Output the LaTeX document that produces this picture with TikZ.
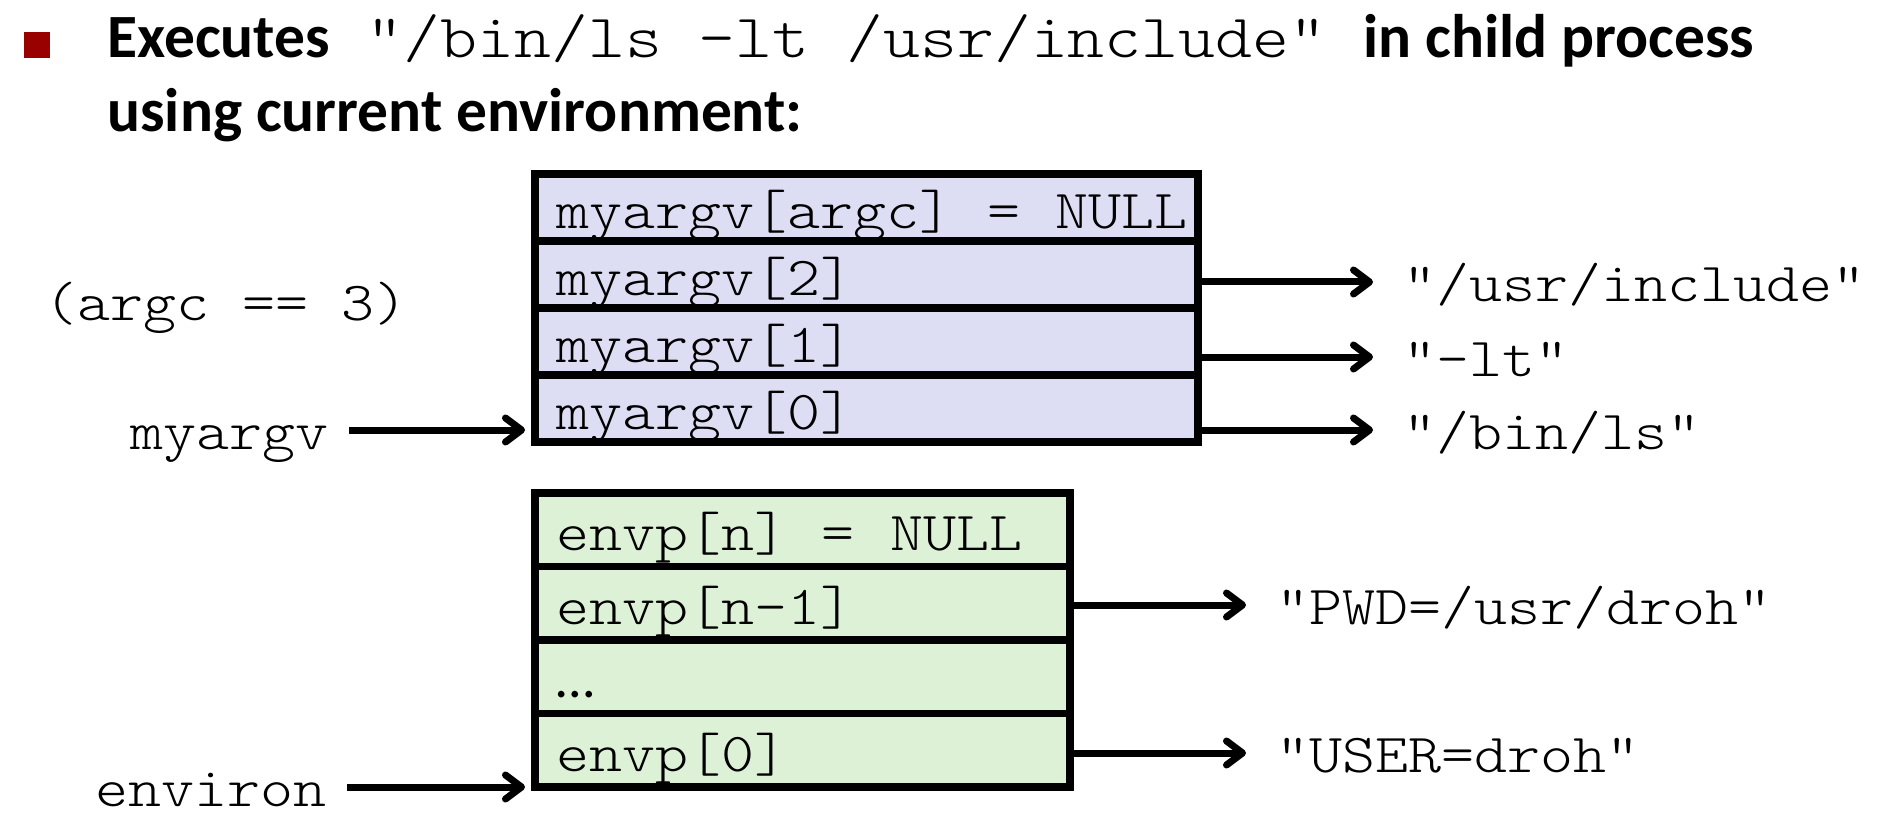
\documentclass[tikz,border=0pt]{standalone}
\usepackage{fontspec}
\setmainfont{Carlito}
\newfontfamily\codefont{lmmonolt10-regular}[Extension=.otf, FakeStretch=1.143]
\usetikzlibrary{arrows.meta}

\definecolor{argvfill}{RGB}{221,221,243}
\definecolor{envfill}{RGB}{221,241,215}
\definecolor{bulletred}{RGB}{153,0,0}

% one monospace cell of blank space inside the array rows
\newcommand\codesp{\kern17.5pt\relax}

\tikzstyle{heading} = [anchor=base west, inner sep=0pt,
  font=\fontsize{30.75}{36}\selectfont\bfseries]
\tikzstyle{cell} = [rectangle, anchor=north west, outer sep=0pt,
  inner xsep=10.5pt, inner ysep=0pt,
  text height=21pt, text depth=0pt, align=left,
  font=\codefont\fontsize{27.5}{33}\selectfont,
  draw=black, line width=3.75pt]
\tikzstyle{argvcell} = [cell, fill=argvfill,
  minimum width=331.5pt, text width=310.5pt, minimum height=33.5pt]
\tikzstyle{envcell} = [cell, fill=envfill,
  minimum width=267.5pt, text width=246.5pt, minimum height=36.75pt]
\tikzstyle{word} = [inner xsep=10pt, inner ysep=0pt,
  text height=19.25pt, text depth=0pt,
  font=\codefont\fontsize{27.5}{33}\selectfont]
\tikzstyle{arrow} = [line width=3.5pt,
  -{Straight Barb[length=8pt,width=12pt,round]}, shorten >=5pt]

\begin{document}
\begin{tikzpicture}[x=0.5pt, y=-0.5pt]
\useasboundingbox (0,0) rectangle (1882,828);

%% ---- TITLE ----
\node (bullet) [rectangle, fill=bulletred, minimum size=13pt, inner sep=0pt] at (37,45) {};
\node (head1) [heading] at (107,58)
  {Executes{\codefont\mdseries\ “/bin/ls -lt /usr/include” }in child process};
\node (head2) [heading] at (107,132) {using current environment:};

%%=============================================================
%% ARGV ARRAY
%%  myargv -> myargv[0], rows point at the argument strings
%%=============================================================
\node (av3) [argvcell] at (535,174) {myargv[argc]\codesp=\codesp NULL};
\node (av2) [argvcell] at (535,241) {myargv[2]};
\node (av1) [argvcell] at (535,308) {myargv[1]};
\node (av0) [argvcell] at (535,375) {myargv[0]};

\node (argc)  [word, anchor=west] at (24,301)   {(argc == 3)};
\node (pargv) [word, anchor=east] at (349,430)  {myargv};
\node (sinc)  [word, anchor=west] at (1383,282) {“/usr/include”};
\node (slt)   [word, anchor=west] at (1383,357) {“-lt”};
\node (sbin)  [word, anchor=west] at (1383,430) {“/bin/ls”};

\draw[arrow] (pargv.east)        -- (pargv.east -| av0.west);
\draw[arrow] (sinc.west -| av2.east) -- (sinc.west);
\draw[arrow] (slt.west -| av1.east)  -- (slt.west);
\draw[arrow] (sbin.west -| av0.east) -- (sbin.west);

%%=============================================================
%% ENVP ARRAY
%%  environ -> envp[0], rows point at the NAME=value strings
%%=============================================================
\node (ev3) [envcell] at (535,493)   {envp[n]\codesp=\codesp NULL};
\node (ev2) [envcell] at (535,566.5) {envp[n-1]};
\node (ev1) [envcell] at (535,640)   {{\rmfamily …}};
\node (ev0) [envcell] at (535,713.5) {envp[0]};

\node (penv)  [word, anchor=east] at (347,787)  {environ};
\node (spwd)  [word, anchor=west] at (1256,605) {“PWD=/usr/droh”};
\node (suser) [word, anchor=west] at (1256,753) {“USER=droh”};

\draw[arrow] (penv.east)           -- (penv.east -| ev0.west);
\draw[arrow] (spwd.west -| ev2.east)  -- (spwd.west);
\draw[arrow] (suser.west -| ev0.east) -- (suser.west);

\end{tikzpicture}
\end{document}
